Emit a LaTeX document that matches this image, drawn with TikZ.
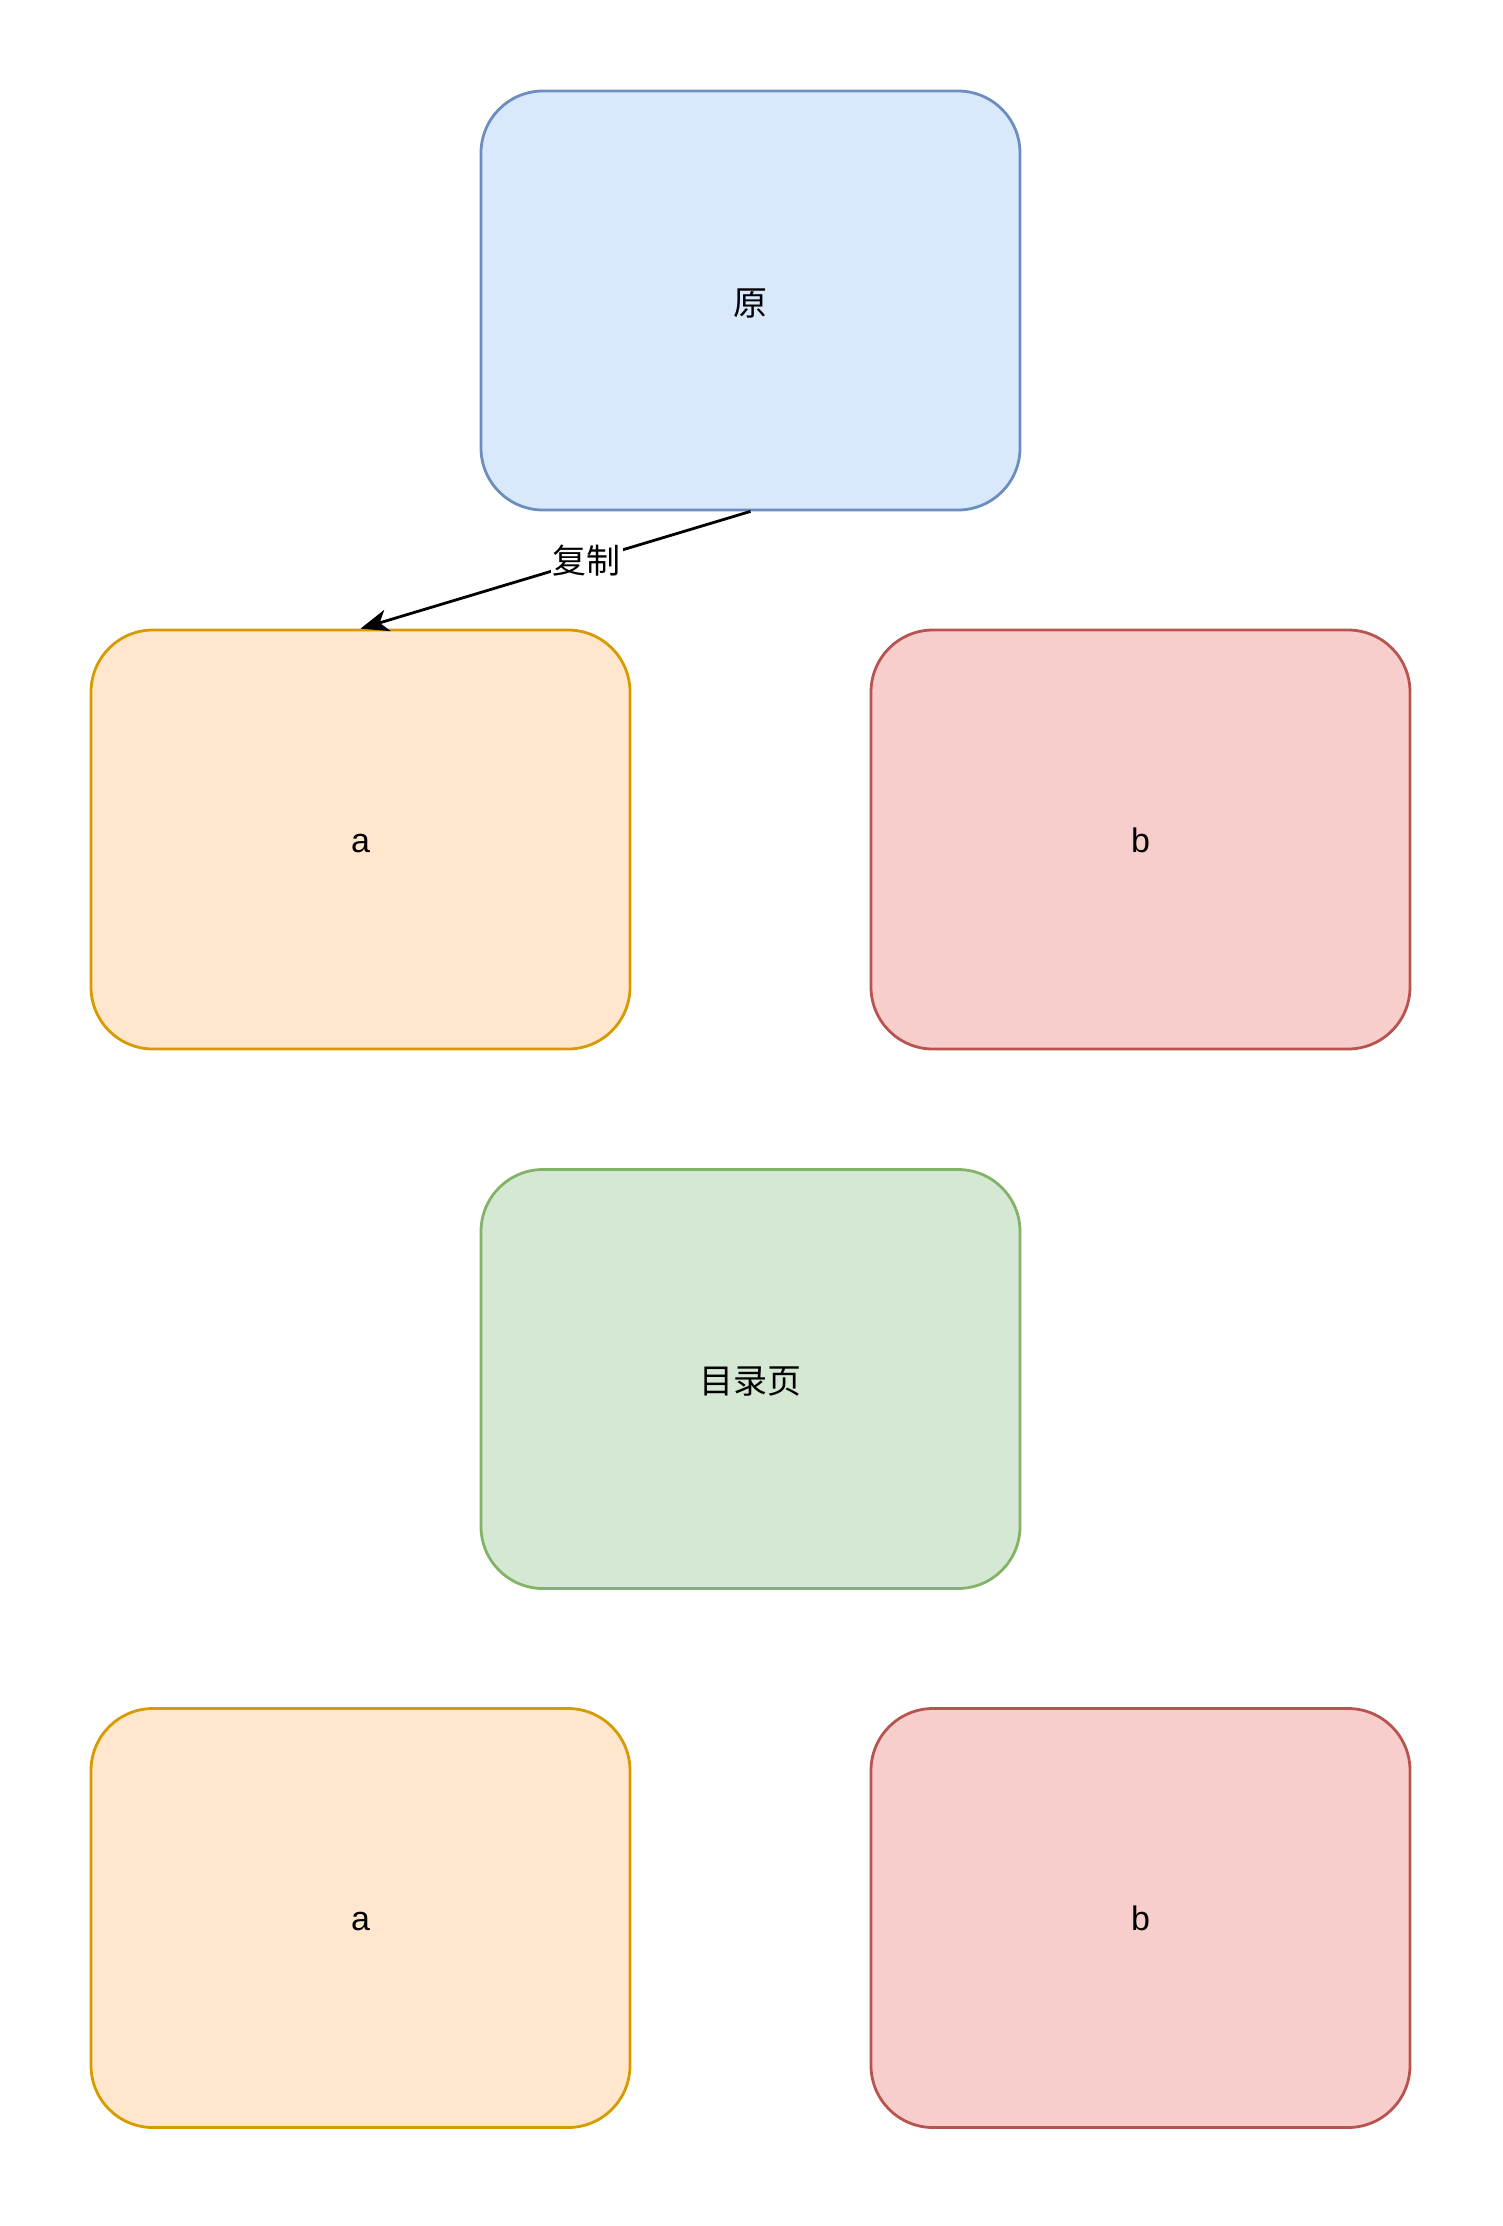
\documentclass[tikz,border=0pt]{standalone}
\usepackage{fontspec}
\setmainfont{Liberation Sans}
\newfontfamily\cjk{Noto Sans CJK SC}
\usetikzlibrary{arrows.meta}
\definecolor{bluefill}{HTML}{DAE8FC}
\definecolor{bluedraw}{HTML}{6C8EBF}
\definecolor{orfill}{HTML}{FFE6CC}
\definecolor{ordraw}{HTML}{D79B00}
\definecolor{redfill}{HTML}{F8CECC}
\definecolor{reddraw}{HTML}{B85450}
\definecolor{grfill}{HTML}{D5E8D4}
\definecolor{grdraw}{HTML}{82B366}
\tikzset{
  card/.style={rectangle, rounded corners=62pt, minimum width=539pt, minimum height=419pt,
    line width=2.8pt, font=\fontsize{34}{40}\selectfont, inner sep=0pt},
  latintext/.style={text height=25pt, text depth=0pt},
  cjktext/.style={text height=29pt, text depth=0pt},
  bluecard/.style={card, fill=bluefill, draw=bluedraw},
  orcard/.style={card, fill=orfill, draw=ordraw},
  redcard/.style={card, fill=redfill, draw=reddraw},
  grcard/.style={card, fill=grfill, draw=grdraw},
  conn/.style={line width=2.8pt, -{Stealth[length=28pt,width=22pt,inset=8pt]}},
  lbl/.style={fill=white, inner sep=2pt, font=\cjk\fontsize{34}{40}\selectfont}
}
\begin{document}
\begin{tikzpicture}[x=1pt,y=-1pt]
\useasboundingbox (0,0) rectangle (1503,2226);
\node[bluecard, cjktext] (orig) at (750.5,300.5) {\cjk 原};
\node[orcard, latintext] (a1) at (360.5,839.5) {a};
\node[redcard, latintext] (b1) at (1140.5,839.5) {b};
\node[grcard, cjktext] (toc) at (750.5,1379) {\cjk 目录页};
\node[orcard, latintext] (a2) at (360.5,1918) {a};
\node[redcard, latintext] (b2) at (1140.5,1918) {b};
\draw[conn] (orig.south) -- node[lbl, pos=0.42] (copy) {复制} (a1.north);
\end{tikzpicture}
\end{document}
